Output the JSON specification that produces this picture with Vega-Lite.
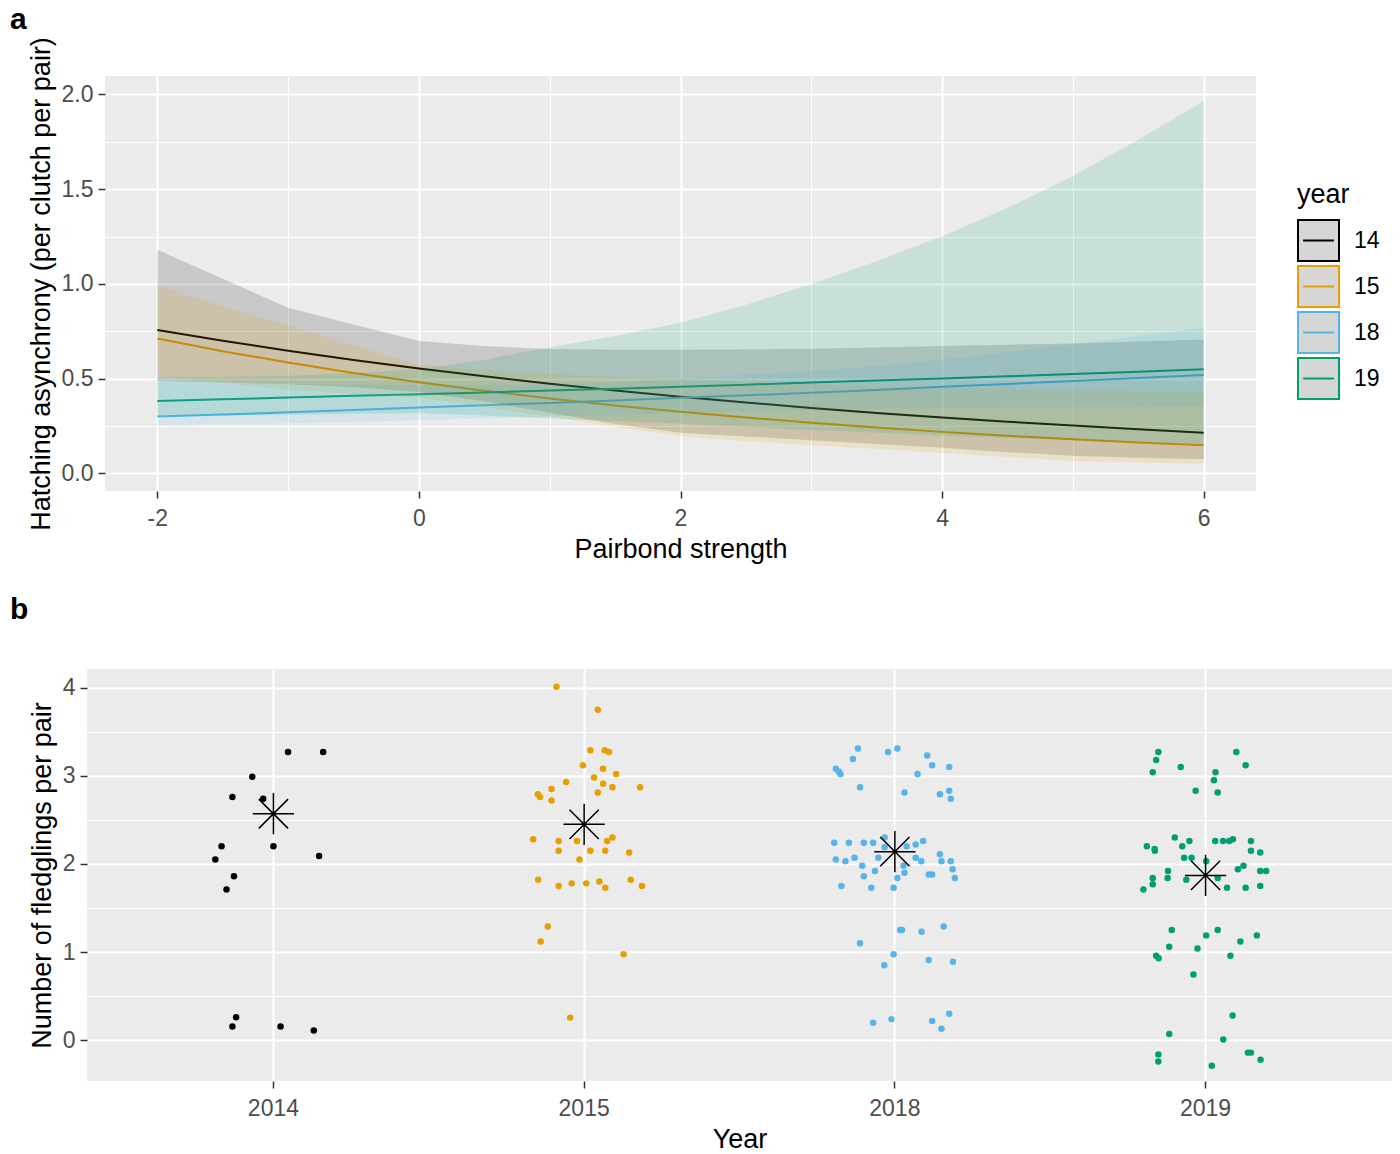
{
  "$schema": "https://vega.github.io/schema/vega-lite/v6.json",
  "background": "white",
  "padding": {"left": 9, "top": 4, "right": 0, "bottom": 0},
  "spacing": 33,
  "config": {
    "font": "Liberation Sans",
    "view": {"fill": "#EBEBEB", "stroke": null},
    "axis": {"domain": false, "grid": true, "gridColor": "#FFFFFF", "tickColor": "#333333", "tickWidth": 1.5, "tickSize": 7, "labelColor": "#4D4D4D", "labelFontSize": 23, "labelPadding": 5, "titleFontSize": 27, "titleFontWeight": "normal", "titleColor": "#000000", "titlePadding": 6},
    "axisX": {"labelPadding": 9},
    "title": {"fontSize": 30, "fontWeight": "bold", "anchor": "start", "frame": "group", "color": "#000000"}
  },
  "datasets": {
    "fits": [
      {"year":"14","x":-2,"fit":0.757,"lo":0.486,"hi":1.18},
      {"year":"14","x":-1.5,"fit":0.700,"lo":0.478,"hi":1.027},
      {"year":"14","x":-1,"fit":0.647,"lo":0.47,"hi":0.874},
      {"year":"14","x":-0.5,"fit":0.598,"lo":0.455,"hi":0.786},
      {"year":"14","x":0,"fit":0.553,"lo":0.43,"hi":0.698},
      {"year":"14","x":0.5,"fit":0.512,"lo":0.38,"hi":0.672},
      {"year":"14","x":1,"fit":0.473,"lo":0.32,"hi":0.656},
      {"year":"14","x":1.5,"fit":0.437,"lo":0.26,"hi":0.653},
      {"year":"14","x":2,"fit":0.404,"lo":0.215,"hi":0.652},
      {"year":"14","x":2.5,"fit":0.374,"lo":0.195,"hi":0.654},
      {"year":"14","x":3,"fit":0.345,"lo":0.175,"hi":0.658},
      {"year":"14","x":3.5,"fit":0.319,"lo":0.155,"hi":0.664},
      {"year":"14","x":4,"fit":0.295,"lo":0.135,"hi":0.672},
      {"year":"14","x":4.5,"fit":0.273,"lo":0.112,"hi":0.679},
      {"year":"14","x":5,"fit":0.252,"lo":0.093,"hi":0.686},
      {"year":"14","x":5.5,"fit":0.233,"lo":0.082,"hi":0.696},
      {"year":"14","x":6,"fit":0.215,"lo":0.074,"hi":0.707},
      {"year":"15","x":-2,"fit":0.712,"lo":0.512,"hi":0.99},
      {"year":"15","x":-1.5,"fit":0.645,"lo":0.48,"hi":0.88},
      {"year":"15","x":-1,"fit":0.585,"lo":0.44,"hi":0.78},
      {"year":"15","x":-0.5,"fit":0.530,"lo":0.42,"hi":0.675},
      {"year":"15","x":0,"fit":0.481,"lo":0.40,"hi":0.575},
      {"year":"15","x":0.5,"fit":0.436,"lo":0.35,"hi":0.545},
      {"year":"15","x":1,"fit":0.395,"lo":0.30,"hi":0.525},
      {"year":"15","x":1.5,"fit":0.358,"lo":0.245,"hi":0.51},
      {"year":"15","x":2,"fit":0.325,"lo":0.197,"hi":0.50},
      {"year":"15","x":2.5,"fit":0.295,"lo":0.17,"hi":0.485},
      {"year":"15","x":3,"fit":0.267,"lo":0.148,"hi":0.47},
      {"year":"15","x":3.5,"fit":0.242,"lo":0.128,"hi":0.46},
      {"year":"15","x":4,"fit":0.219,"lo":0.108,"hi":0.45},
      {"year":"15","x":4.5,"fit":0.199,"lo":0.085,"hi":0.445},
      {"year":"15","x":5,"fit":0.180,"lo":0.065,"hi":0.44},
      {"year":"15","x":5.5,"fit":0.163,"lo":0.057,"hi":0.435},
      {"year":"15","x":6,"fit":0.148,"lo":0.051,"hi":0.429},
      {"year":"18","x":-2,"fit":0.300,"lo":0.255,"hi":0.479},
      {"year":"18","x":-1.5,"fit":0.311,"lo":0.26,"hi":0.475},
      {"year":"18","x":-1,"fit":0.322,"lo":0.265,"hi":0.472},
      {"year":"18","x":-0.5,"fit":0.335,"lo":0.272,"hi":0.468},
      {"year":"18","x":0,"fit":0.348,"lo":0.28,"hi":0.466},
      {"year":"18","x":0.5,"fit":0.360,"lo":0.29,"hi":0.466},
      {"year":"18","x":1,"fit":0.372,"lo":0.30,"hi":0.47},
      {"year":"18","x":1.5,"fit":0.385,"lo":0.31,"hi":0.48},
      {"year":"18","x":2,"fit":0.399,"lo":0.32,"hi":0.50},
      {"year":"18","x":2.5,"fit":0.412,"lo":0.328,"hi":0.52},
      {"year":"18","x":3,"fit":0.425,"lo":0.335,"hi":0.54},
      {"year":"18","x":3.5,"fit":0.440,"lo":0.34,"hi":0.565},
      {"year":"18","x":4,"fit":0.457,"lo":0.345,"hi":0.60},
      {"year":"18","x":4.5,"fit":0.472,"lo":0.348,"hi":0.64},
      {"year":"18","x":5,"fit":0.488,"lo":0.35,"hi":0.68},
      {"year":"18","x":5.5,"fit":0.503,"lo":0.353,"hi":0.725},
      {"year":"18","x":6,"fit":0.519,"lo":0.355,"hi":0.769},
      {"year":"19","x":-2,"fit":0.382,"lo":0.30,"hi":0.51},
      {"year":"19","x":-1.5,"fit":0.391,"lo":0.305,"hi":0.51},
      {"year":"19","x":-1,"fit":0.400,"lo":0.31,"hi":0.515},
      {"year":"19","x":-0.5,"fit":0.409,"lo":0.315,"hi":0.53},
      {"year":"19","x":0,"fit":0.418,"lo":0.318,"hi":0.55},
      {"year":"19","x":0.5,"fit":0.427,"lo":0.305,"hi":0.60},
      {"year":"19","x":1,"fit":0.437,"lo":0.29,"hi":0.665},
      {"year":"19","x":1.5,"fit":0.447,"lo":0.277,"hi":0.725},
      {"year":"19","x":2,"fit":0.457,"lo":0.263,"hi":0.795},
      {"year":"19","x":2.5,"fit":0.468,"lo":0.245,"hi":0.89},
      {"year":"19","x":3,"fit":0.479,"lo":0.229,"hi":1.00},
      {"year":"19","x":3.5,"fit":0.490,"lo":0.214,"hi":1.12},
      {"year":"19","x":4,"fit":0.501,"lo":0.200,"hi":1.252},
      {"year":"19","x":4.5,"fit":0.512,"lo":0.187,"hi":1.40},
      {"year":"19","x":5,"fit":0.524,"lo":0.175,"hi":1.569},
      {"year":"19","x":5.5,"fit":0.536,"lo":0.164,"hi":1.76},
      {"year":"19","x":6,"fit":0.549,"lo":0.153,"hi":1.965}
    ],
    "pairs": [
      {"year":"2014","jit":0.047,"n":3.27},{"year":"2014","jit":0.16,"n":3.27},{"year":"2014","jit":-0.068,"n":2.99},{"year":"2014","jit":-0.132,"n":2.76},{"year":"2014","jit":-0.033,"n":2.74},{"year":"2014","jit":-0.167,"n":2.20},{"year":"2014","jit":0.0,"n":2.20},{"year":"2014","jit":-0.187,"n":2.05},{"year":"2014","jit":0.147,"n":2.09},{"year":"2014","jit":-0.127,"n":1.86},{"year":"2014","jit":-0.151,"n":1.71},{"year":"2014","jit":-0.12,"n":0.26},{"year":"2014","jit":-0.132,"n":0.155},{"year":"2014","jit":0.023,"n":0.155},{"year":"2014","jit":0.13,"n":0.11},
      {"year":"2015","jit":-0.089,"n":4.01},{"year":"2015","jit":0.044,"n":3.75},{"year":"2015","jit":0.02,"n":3.29},{"year":"2015","jit":0.066,"n":3.29},{"year":"2015","jit":0.08,"n":3.27},{"year":"2015","jit":-0.004,"n":3.12},{"year":"2015","jit":0.061,"n":3.08},{"year":"2015","jit":0.103,"n":3.02},{"year":"2015","jit":0.032,"n":2.98},{"year":"2015","jit":-0.058,"n":2.93},{"year":"2015","jit":0.061,"n":2.91},{"year":"2015","jit":0.091,"n":2.87},{"year":"2015","jit":0.18,"n":2.87},{"year":"2015","jit":-0.105,"n":2.85},{"year":"2015","jit":-0.149,"n":2.79},{"year":"2015","jit":-0.142,"n":2.76},{"year":"2015","jit":-0.105,"n":2.72},{"year":"2015","jit":0.044,"n":2.81},{"year":"2015","jit":-0.164,"n":2.28},{"year":"2015","jit":-0.082,"n":2.26},{"year":"2015","jit":-0.023,"n":2.26},{"year":"2015","jit":0.074,"n":2.26},{"year":"2015","jit":0.091,"n":2.30},{"year":"2015","jit":-0.082,"n":2.15},{"year":"2015","jit":0.02,"n":2.15},{"year":"2015","jit":0.068,"n":2.15},{"year":"2015","jit":0.145,"n":2.13},{"year":"2015","jit":-0.015,"n":2.05},{"year":"2015","jit":-0.148,"n":1.82},{"year":"2015","jit":-0.082,"n":1.75},{"year":"2015","jit":-0.04,"n":1.78},{"year":"2015","jit":0.007,"n":1.78},{"year":"2015","jit":0.049,"n":1.80},{"year":"2015","jit":0.068,"n":1.73},{"year":"2015","jit":0.15,"n":1.82},{"year":"2015","jit":0.186,"n":1.75},{"year":"2015","jit":-0.117,"n":1.29},{"year":"2015","jit":-0.14,"n":1.12},{"year":"2015","jit":0.127,"n":0.975},{"year":"2015","jit":-0.045,"n":0.257},
      {"year":"2018","jit":-0.119,"n":3.31},{"year":"2018","jit":-0.022,"n":3.27},{"year":"2018","jit":0.008,"n":3.31},{"year":"2018","jit":-0.135,"n":3.19},{"year":"2018","jit":0.104,"n":3.23},{"year":"2018","jit":0.12,"n":3.12},{"year":"2018","jit":0.175,"n":3.10},{"year":"2018","jit":-0.19,"n":3.08},{"year":"2018","jit":-0.181,"n":3.05},{"year":"2018","jit":-0.175,"n":3.02},{"year":"2018","jit":0.073,"n":3.02},{"year":"2018","jit":-0.112,"n":2.87},{"year":"2018","jit":0.031,"n":2.81},{"year":"2018","jit":0.145,"n":2.79},{"year":"2018","jit":0.175,"n":2.83},{"year":"2018","jit":0.18,"n":2.74},
      {"year":"2018","jit":-0.195,"n":2.24},{"year":"2018","jit":-0.148,"n":2.24},{"year":"2018","jit":-0.1,"n":2.24},{"year":"2018","jit":-0.07,"n":2.24},{"year":"2018","jit":-0.033,"n":2.30},{"year":"2018","jit":-0.033,"n":2.19},{"year":"2018","jit":0.038,"n":2.20},{"year":"2018","jit":0.067,"n":2.22},{"year":"2018","jit":0.091,"n":2.26},{"year":"2018","jit":-0.19,"n":2.05},{"year":"2018","jit":-0.159,"n":2.03},{"year":"2018","jit":-0.13,"n":2.07},{"year":"2018","jit":-0.105,"n":1.98},{"year":"2018","jit":-0.053,"n":2.07},{"year":"2018","jit":0.028,"n":1.98},{"year":"2018","jit":0.067,"n":2.07},{"year":"2018","jit":0.085,"n":2.03},{"year":"2018","jit":0.145,"n":2.11},{"year":"2018","jit":0.15,"n":2.03},{"year":"2018","jit":0.18,"n":2.03},{"year":"2018","jit":0.186,"n":1.94},{"year":"2018","jit":-0.064,"n":1.92},{"year":"2018","jit":-0.1,"n":1.86},{"year":"2018","jit":0.031,"n":1.90},{"year":"2018","jit":0.008,"n":1.84},{"year":"2018","jit":0.109,"n":1.88},{"year":"2018","jit":0.12,"n":1.88},{"year":"2018","jit":0.193,"n":1.84},{"year":"2018","jit":-0.172,"n":1.75},{"year":"2018","jit":-0.076,"n":1.73},{"year":"2018","jit":-0.004,"n":1.73},
      {"year":"2018","jit":0.017,"n":1.25},{"year":"2018","jit":0.023,"n":1.25},{"year":"2018","jit":0.086,"n":1.23},{"year":"2018","jit":0.157,"n":1.29},{"year":"2018","jit":-0.112,"n":1.10},{"year":"2018","jit":-0.004,"n":0.975},{"year":"2018","jit":-0.034,"n":0.85},{"year":"2018","jit":0.109,"n":0.91},{"year":"2018","jit":0.187,"n":0.89},{"year":"2018","jit":-0.07,"n":0.20},{"year":"2018","jit":-0.011,"n":0.24},{"year":"2018","jit":0.12,"n":0.22},{"year":"2018","jit":0.175,"n":0.30},{"year":"2018","jit":0.15,"n":0.13},
      {"year":"2019","jit":-0.152,"n":3.27},{"year":"2019","jit":-0.159,"n":3.18},{"year":"2019","jit":-0.17,"n":3.04},{"year":"2019","jit":-0.08,"n":3.10},{"year":"2019","jit":0.099,"n":3.27},{"year":"2019","jit":0.129,"n":3.12},{"year":"2019","jit":0.032,"n":3.04},{"year":"2019","jit":0.027,"n":2.95},{"year":"2019","jit":-0.032,"n":2.83},{"year":"2019","jit":0.039,"n":2.81},
      {"year":"2019","jit":-0.099,"n":2.30},{"year":"2019","jit":-0.052,"n":2.26},{"year":"2019","jit":-0.075,"n":2.20},{"year":"2019","jit":-0.189,"n":2.20},{"year":"2019","jit":-0.164,"n":2.17},{"year":"2019","jit":-0.163,"n":2.15},{"year":"2019","jit":0.031,"n":2.26},{"year":"2019","jit":0.056,"n":2.26},{"year":"2019","jit":0.076,"n":2.26},{"year":"2019","jit":0.088,"n":2.28},{"year":"2019","jit":0.146,"n":2.26},{"year":"2019","jit":0.146,"n":2.15},{"year":"2019","jit":0.176,"n":2.13},{"year":"2019","jit":-0.069,"n":2.07},{"year":"2019","jit":-0.045,"n":2.07},{"year":"2019","jit":0.002,"n":2.03},{"year":"2019","jit":-0.121,"n":1.92},{"year":"2019","jit":-0.122,"n":1.84},{"year":"2019","jit":-0.17,"n":1.84},{"year":"2019","jit":-0.17,"n":1.77},{"year":"2019","jit":-0.2,"n":1.71},{"year":"2019","jit":-0.062,"n":1.82},{"year":"2019","jit":0.039,"n":1.84},{"year":"2019","jit":0.069,"n":1.73},{"year":"2019","jit":0.104,"n":1.94},{"year":"2019","jit":0.122,"n":1.98},{"year":"2019","jit":0.129,"n":1.73},{"year":"2019","jit":0.176,"n":1.92},{"year":"2019","jit":0.195,"n":1.92},{"year":"2019","jit":0.176,"n":1.75},
      {"year":"2019","jit":-0.109,"n":1.25},{"year":"2019","jit":0.039,"n":1.25},{"year":"2019","jit":0.002,"n":1.19},{"year":"2019","jit":0.165,"n":1.19},{"year":"2019","jit":0.112,"n":1.12},{"year":"2019","jit":-0.117,"n":1.06},{"year":"2019","jit":-0.026,"n":1.04},{"year":"2019","jit":-0.159,"n":0.96},{"year":"2019","jit":-0.151,"n":0.93},{"year":"2019","jit":0.08,"n":0.96},{"year":"2019","jit":-0.039,"n":0.745},{"year":"2019","jit":0.087,"n":0.28},{"year":"2019","jit":-0.117,"n":0.07},{"year":"2019","jit":0.057,"n":0.008},{"year":"2019","jit":-0.152,"n":-0.16},{"year":"2019","jit":-0.152,"n":-0.24},{"year":"2019","jit":0.136,"n":-0.14},{"year":"2019","jit":0.146,"n":-0.14},{"year":"2019","jit":0.177,"n":-0.22},{"year":"2019","jit":0.02,"n":-0.29}
    ],
    "means": [
      {"year":"2014","mean":2.57},{"year":"2015","mean":2.45},{"year":"2018","mean":2.14},{"year":"2019","mean":1.87}
    ],
    "blank": [{"v": 0}]
  },
  "vconcat": [
    {
      "spacing": 0,
      "hconcat": [
        {
          "width": 1, "height": 1,
          "view": {"fill": null, "stroke": null},
          "data": {"name": "blank"},
          "mark": {"type": "text", "text": ""},
          "encoding": {}
        },
        {
          "title": {"text": "a", "dx": -95, "offset": 2},
          "width": 1151,
          "height": 415,
          "data": {"name": "fits"},
          "encoding": {
            "x": {"field": "x", "type": "quantitative", "scale": {"domain": [-2.4, 6.4], "nice": false, "zero": false},
              "axis": {"title": "Pairbond strength", "values": [-2,-1,0,1,2,3,4,5,6],
                "labelExpr": "datum.value % 2 === 0 ? '' + datum.value : ''",
                "gridWidth": {"condition": {"test": "datum.value % 2 === 0", "value": 2}, "value": 1},
                "tickOpacity": {"condition": {"test": "datum.value % 2 === 0", "value": 1}, "value": 0}}},
            "y": {"type": "quantitative", "scale": {"domain": [-0.093, 2.097], "nice": false, "zero": false},
              "axis": {"title": "Hatching asynchrony (per clutch per pair)", "values": [0,0.25,0.5,0.75,1,1.25,1.5,1.75,2],
                "labelExpr": "(datum.value * 2) % 1 === 0 ? format(datum.value, '.1f') : ''",
                "gridWidth": {"condition": {"test": "(datum.value * 2) % 1 === 0", "value": 2}, "value": 1},
                "tickOpacity": {"condition": {"test": "(datum.value * 2) % 1 === 0", "value": 1}, "value": 0}}}
          },
          "layer": [
            {
              "mark": {"type": "line", "strokeWidth": 2},
              "encoding": {
                "y": {"field": "fit", "type": "quantitative"},
                "stroke": {"field": "year", "type": "nominal",
                  "scale": {"domain": ["14","15","18","19"], "range": ["#000000","#E69F00","#56B4E9","#009E73"]},
                  "legend": {"title": "year", "orient": "none", "legendX": 1288, "legendY": 106,
                    "symbolType": "M-1,-1L1,-1L1,1L-1,1ZM-0.75,0L0.75,0", "symbolSize": 1681, "symbolStrokeWidth": 2,
                    "symbolFillColor": "#D6D6D6",
                    "labelFontSize": 23, "labelColor": "#000000", "titleFontSize": 27, "titleFontWeight": "normal", "titleColor": "#000000",
                    "titlePadding": 10, "rowPadding": -6, "labelOffset": 14, "padding": 0,
                    "encode": {"symbols": {"update": {"fill": {"value": "#D6D6D6"}, "fillOpacity": {"value": 1}}}}}}
              }
            },
            {
              "transform": [{"filter": "datum.year === '14'"}],
              "mark": {"type": "area", "opacity": 0.15, "color": "#000000"},
              "encoding": {"y": {"field": "lo", "type": "quantitative"}, "y2": {"field": "hi"}}
            },
            {
              "transform": [{"filter": "datum.year === '15'"}],
              "mark": {"type": "area", "opacity": 0.15, "color": "#E69F00"},
              "encoding": {"y": {"field": "lo", "type": "quantitative"}, "y2": {"field": "hi"}}
            },
            {
              "transform": [{"filter": "datum.year === '18'"}],
              "mark": {"type": "area", "opacity": 0.15, "color": "#56B4E9"},
              "encoding": {"y": {"field": "lo", "type": "quantitative"}, "y2": {"field": "hi"}}
            },
            {
              "transform": [{"filter": "datum.year === '19'"}],
              "mark": {"type": "area", "opacity": 0.15, "color": "#009E73"},
              "encoding": {"y": {"field": "lo", "type": "quantitative"}, "y2": {"field": "hi"}}
            }
          ]
        }
      ]
    },
    {
      "spacing": 0,
      "hconcat": [
        {
          "width": 1, "height": 1,
          "view": {"fill": null, "stroke": null},
          "data": {"name": "blank"},
          "mark": {"type": "text", "text": ""},
          "encoding": {}
        },
        {
          "title": {"text": "b", "dx": -77, "offset": 44},
          "width": 1305,
          "height": 412,
          "encoding": {
            "x": {"field": "year", "type": "nominal", "scale": {"paddingInner": 0, "paddingOuter": 0.1},
              "axis": {"title": "Year", "labelAngle": 0, "bandPosition": 0.5, "gridWidth": 2}},
            "y": {"type": "quantitative", "scale": {"domain": [-0.462, 4.212], "nice": false, "zero": false},
              "axis": {"title": "Number of fledglings per pair", "values": [0,0.5,1,1.5,2,2.5,3,3.5,4],
                "labelExpr": "datum.value % 1 === 0 ? '' + datum.value : ''",
                "gridWidth": {"condition": {"test": "datum.value % 1 === 0", "value": 2}, "value": 1},
                "tickOpacity": {"condition": {"test": "datum.value % 1 === 0", "value": 1}, "value": 0}}}
          },
          "layer": [
            {
              "data": {"name": "pairs"},
              "mark": {"type": "circle", "size": 42, "opacity": 1},
              "encoding": {
                "y": {"field": "n", "type": "quantitative"},
                "xOffset": {"field": "jit", "type": "quantitative", "scale": {"domain": [-0.5, 0.5]}},
                "color": {"field": "year", "type": "nominal",
                  "scale": {"domain": ["2014","2015","2018","2019"], "range": ["#000000","#E69F00","#56B4E9","#009E73"]},
                  "legend": null}
              }
            },
            {
              "data": {"name": "means"},
              "mark": {"type": "point", "shape": "M-1,0L1,0M0,-1L0,1M-0.71,-0.71L0.71,0.71M-0.71,0.71L0.71,-0.71", "size": 1700, "stroke": "#000000", "strokeWidth": 1.5, "filled": false, "opacity": 1},
              "encoding": {
                "y": {"field": "mean", "type": "quantitative"}
              }
            }
          ]
        }
      ]
    }
  ]
}
